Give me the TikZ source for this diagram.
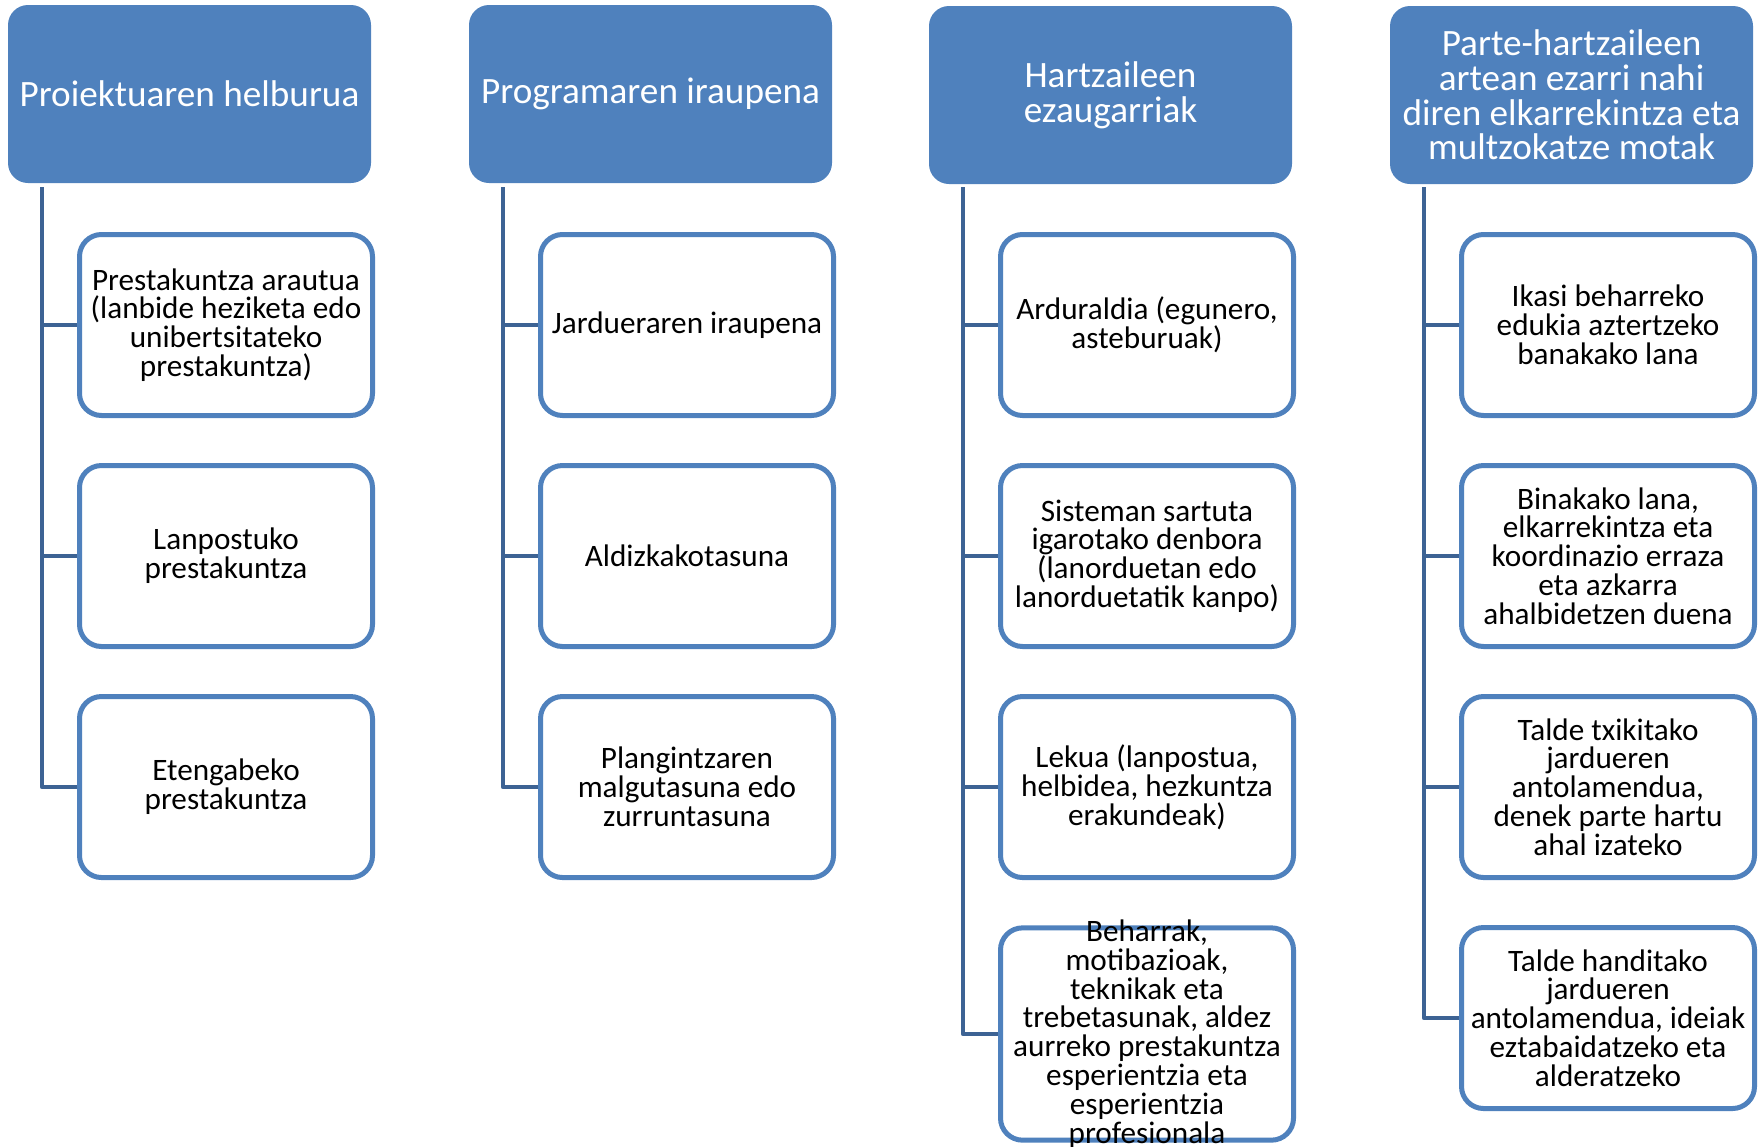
\documentclass[tikz,border=0pt]{standalone}
\usepackage{fontspec}
\setmainfont{Carlito}

\definecolor{headblue}{RGB}{79,129,189}
\definecolor{linkblue}{RGB}{61,99,148}

\tikzset{
  head/.style={fill=headblue, text=white, rounded corners=10pt,
    minimum width=181.5pt, minimum height=89pt, align=center,
    inner sep=2pt, font=\fontsize{18.6}{17.4}\selectfont},
  item/.style={draw=headblue, line width=2.5pt, fill=white, rounded corners=11pt,
    minimum width=146.5pt, minimum height=90.5pt, align=center,
    inner sep=1pt, font=\fontsize{15.6}{14.4}\selectfont},
  trunk/.style={draw=linkblue, line width=2.25pt, line join=round}
}

\begin{document}
\begin{tikzpicture}[x=0.5pt, y=-0.5pt]
\useasboundingbox (0,0) rectangle (1764,1146);

% headers
\node[head] (h1) at (189.5,94) {Proiektuaren helburua};
\node[head] (h2) at (650.5,94) {Programaren iraupena};
\node[head] (h3) at (1110.5,95) {Hartzaileen\\ezaugarriak};
\node[head] (h4) at (1571.5,95) {Parte-hartzaileen\\artean ezarri nahi\\diren elkarrekintza eta\\multzokatze motak};

% first column
\node[item] (c11) at (226,325) {Prestakuntza arautua\\(lanbide heziketa edo\\unibertsitateko\\prestakuntza)};
\node[item] (c12) at (226,556) {Lanpostuko\\prestakuntza};
\node[item] (c13) at (226,787) {Etengabeko\\prestakuntza};

% second column
\node[item] (c21) at (687,325) {Jardueraren iraupena};
\node[item] (c22) at (687,556) {Aldizkakotasuna};
\node[item] (c23) at (687,787) {Plangintzaren\\malgutasuna edo\\zurruntasuna};

% third column
\node[item] (c31) at (1147,325) {Arduraldia (egunero,\\asteburuak)};
\node[item] (c32) at (1147,556) {Sisteman sartuta\\igarotako denbora\\(lanorduetan edo\\lanorduetatik kanpo)};
\node[item] (c33) at (1147,787) {Lekua (lanpostua,\\helbidea, hezkuntza\\erakundeak)};
\node[item, inner ysep=-4pt] (c34) at (1147,1034) {Beharrak,\\motibazioak,\\teknikak eta\\trebetasunak, aldez\\aurreko prestakuntza\\esperientzia eta\\esperientzia\\profesionala};

% fourth column
\node[item] (c41) at (1608,325) {Ikasi beharreko\\edukia aztertzeko\\banakako lana};
\node[item] (c42) at (1608,556) {Binakako lana,\\elkarrekintza eta\\koordinazio erraza\\eta azkarra\\ahalbidetzen duena};
\node[item] (c43) at (1608,787) {Talde txikitako\\jardueren\\antolamendua,\\denek parte hartu\\ahal izateko};
\node[item] (c44) at (1608,1018) {Talde handitako\\jardueren\\antolamendua, ideiak\\eztabaidatzeko eta\\alderatzeko};

% connectors
\coordinate (t1) at (42,187);
\coordinate (t2) at (503,187);
\coordinate (t3) at (963,187);
\coordinate (t4) at (1424,187);

\draw[trunk] (t1) |- (c13.west);
\draw[trunk] (t1) |- (c12.west);
\draw[trunk] (t1) |- (c11.west);

\draw[trunk] (t2) |- (c23.west);
\draw[trunk] (t2) |- (c22.west);
\draw[trunk] (t2) |- (c21.west);

\draw[trunk] (t3) |- (c34.west);
\draw[trunk] (t3) |- (c33.west);
\draw[trunk] (t3) |- (c32.west);
\draw[trunk] (t3) |- (c31.west);

\draw[trunk] (t4) |- (c44.west);
\draw[trunk] (t4) |- (c43.west);
\draw[trunk] (t4) |- (c42.west);
\draw[trunk] (t4) |- (c41.west);
\end{tikzpicture}
\end{document}
